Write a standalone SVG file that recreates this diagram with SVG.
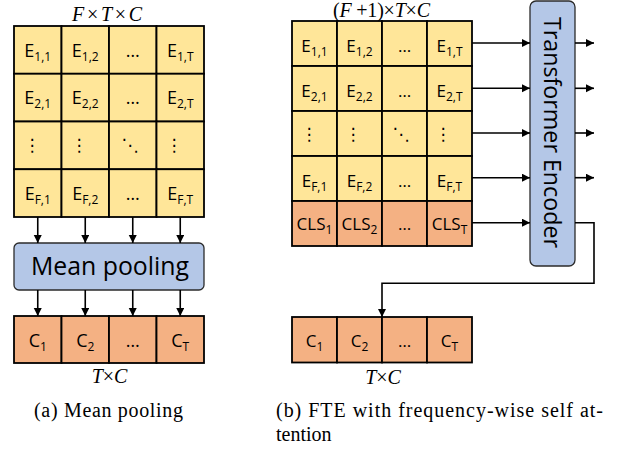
<svg xmlns="http://www.w3.org/2000/svg" width="631" height="449" viewBox="0 0 631 449">
<defs>
<marker id="ah" markerUnits="userSpaceOnUse" markerWidth="9" markerHeight="9" refX="8" refY="4" orient="auto">
<path d="M0,0 L8,4 L0,8 Z" fill="#000"/>
</marker>
<style>
.y{fill:#FFE699;stroke:#000;stroke-width:1.8}
.o{fill:#F4B183;stroke:#000;stroke-width:1.8}
.b{fill:#B4C7E7;stroke:#2b2b2b;stroke-width:1.3}
.l{font-family:"Open Sans","Noto Sans",sans-serif;font-size:18px;fill:#000;text-anchor:middle}
.r{font-family:"Open Sans","Noto Sans",sans-serif;font-size:17px;fill:#000;text-anchor:middle}
.s{font-size:12px}
.d{font-family:"DejaVu Sans",sans-serif;font-size:17px;fill:#000;text-anchor:middle}
.m{font-family:"Liberation Serif","Times New Roman",serif;font-size:20px;fill:#000}
.i{font-style:italic}
.cap{font-family:"Liberation Serif","Times New Roman",serif;font-size:20px;fill:#000}
.c{fill:none;stroke:#000;stroke-width:1.6;marker-end:url(#ah)}
</style>
</defs>

<!-- left matrix -->
<g id="left-matrix">
<rect class="y" x="14" y="26" width="47.5" height="47.75"/>
<rect class="y" x="61.5" y="26" width="47.5" height="47.75"/>
<rect class="y" x="109" y="26" width="47.5" height="47.75"/>
<rect class="y" x="156.5" y="26" width="47.5" height="47.75"/>
<rect class="y" x="14" y="73.75" width="47.5" height="47.75"/>
<rect class="y" x="61.5" y="73.75" width="47.5" height="47.75"/>
<rect class="y" x="109" y="73.75" width="47.5" height="47.75"/>
<rect class="y" x="156.5" y="73.75" width="47.5" height="47.75"/>
<rect class="y" x="14" y="121.5" width="47.5" height="47.75"/>
<rect class="y" x="61.5" y="121.5" width="47.5" height="47.75"/>
<rect class="y" x="109" y="121.5" width="47.5" height="47.75"/>
<rect class="y" x="156.5" y="121.5" width="47.5" height="47.75"/>
<rect class="y" x="14" y="169.25" width="47.5" height="47.75"/>
<rect class="y" x="61.5" y="169.25" width="47.5" height="47.75"/>
<rect class="y" x="109" y="169.25" width="47.5" height="47.75"/>
<rect class="y" x="156.5" y="169.25" width="47.5" height="47.75"/>
<text class="l" x="37.75" y="56.6">E<tspan class="s" dy="4">1,1</tspan></text>
<text class="l" x="85.25" y="56.6">E<tspan class="s" dy="4">1,2</tspan></text>
<text class="l" x="132.75" y="56.6">…</text>
<text class="l" x="180.25" y="56.6">E<tspan class="s" dy="4">1,T</tspan></text>
<text class="l" x="37.75" y="104.3">E<tspan class="s" dy="4">2,1</tspan></text>
<text class="l" x="85.25" y="104.3">E<tspan class="s" dy="4">2,2</tspan></text>
<text class="l" x="132.75" y="104.3">…</text>
<text class="l" x="180.25" y="104.3">E<tspan class="s" dy="4">2,T</tspan></text>
<text class="d" x="32" y="151">⋮</text>
<text class="d" x="79" y="151">⋮</text>
<text class="d" x="130" y="151">⋱</text>
<text class="d" x="174" y="151">⋮</text>
<text class="l" x="37.75" y="199.8">E<tspan class="s" dy="4">F,1</tspan></text>
<text class="l" x="85.25" y="199.8">E<tspan class="s" dy="4">F,2</tspan></text>
<text class="l" x="132.75" y="199.8">…</text>
<text class="l" x="180.25" y="199.8">E<tspan class="s" dy="4">F,T</tspan></text>
</g>
<text class="m" x="72" y="20.5" textLength="70" lengthAdjust="spacing"><tspan class="i">F</tspan>×<tspan class="i">T</tspan>×<tspan class="i">C</tspan></text>

<g id="mean-pooling">
<rect class="b" x="14" y="243" width="190" height="47" rx="5"/>
<text x="110" y="275" font-family="'Open Sans','Noto Sans',sans-serif" font-size="25" text-anchor="middle" textLength="158" lengthAdjust="spacingAndGlyphs">Mean pooling</text>
</g>

<g id="left-output">
<rect class="o" x="14" y="316" width="47.5" height="47"/>
<rect class="o" x="61.5" y="316" width="47.5" height="47"/>
<rect class="o" x="109" y="316" width="47.5" height="47"/>
<rect class="o" x="156.5" y="316" width="47.5" height="47"/>
<text class="l" x="37.75" y="346.5">C<tspan class="s" dy="4">1</tspan></text>
<text class="l" x="85.25" y="346.5">C<tspan class="s" dy="4">2</tspan></text>
<text class="l" x="132.75" y="346.5">…</text>
<text class="l" x="180.25" y="346.5">C<tspan class="s" dy="4">T</tspan></text>
</g>
<text class="m" x="109.5" y="383" text-anchor="middle"><tspan class="i">T</tspan>×<tspan class="i">C</tspan></text>

<!-- right matrix -->
<g id="right-matrix">
<rect class="y" x="292" y="21" width="45" height="45"/>
<rect class="y" x="337" y="21" width="45" height="45"/>
<rect class="y" x="382" y="21" width="45" height="45"/>
<rect class="y" x="427" y="21" width="45" height="45"/>
<rect class="y" x="292" y="66" width="45" height="45"/>
<rect class="y" x="337" y="66" width="45" height="45"/>
<rect class="y" x="382" y="66" width="45" height="45"/>
<rect class="y" x="427" y="66" width="45" height="45"/>
<rect class="y" x="292" y="111" width="45" height="45"/>
<rect class="y" x="337" y="111" width="45" height="45"/>
<rect class="y" x="382" y="111" width="45" height="45"/>
<rect class="y" x="427" y="111" width="45" height="45"/>
<rect class="y" x="292" y="156" width="45" height="45"/>
<rect class="y" x="337" y="156" width="45" height="45"/>
<rect class="y" x="382" y="156" width="45" height="45"/>
<rect class="y" x="427" y="156" width="45" height="45"/>
<rect class="o" x="292" y="201" width="45" height="45"/>
<rect class="o" x="337" y="201" width="45" height="45"/>
<rect class="o" x="382" y="201" width="45" height="45"/>
<rect class="o" x="427" y="201" width="45" height="45"/>
<text class="r" x="314.5" y="51.5">E<tspan class="s" dy="4">1,1</tspan></text>
<text class="r" x="359.5" y="51.5">E<tspan class="s" dy="4">1,2</tspan></text>
<text class="r" x="404.5" y="51.5">…</text>
<text class="r" x="449.5" y="51.5">E<tspan class="s" dy="4">1,T</tspan></text>
<text class="r" x="314.5" y="96.5">E<tspan class="s" dy="4">2,1</tspan></text>
<text class="r" x="359.5" y="96.5">E<tspan class="s" dy="4">2,2</tspan></text>
<text class="r" x="404.5" y="96.5">…</text>
<text class="r" x="449.5" y="96.5">E<tspan class="s" dy="4">2,T</tspan></text>
<text class="d" x="309" y="140">⋮</text>
<text class="d" x="353" y="140">⋮</text>
<text class="d" x="401" y="140">⋱</text>
<text class="d" x="443" y="140">⋮</text>
<text class="r" x="314.5" y="186.5">E<tspan class="s" dy="4">F,1</tspan></text>
<text class="r" x="359.5" y="186.5">E<tspan class="s" dy="4">F,2</tspan></text>
<text class="r" x="404.5" y="186.5">…</text>
<text class="r" x="449.5" y="186.5">E<tspan class="s" dy="4">F,T</tspan></text>
<text class="r" x="314.5" y="229.5">CLS<tspan class="s" dy="4">1</tspan></text>
<text class="r" x="359.5" y="229.5">CLS<tspan class="s" dy="4">2</tspan></text>
<text class="r" x="404.5" y="229.5">…</text>
<text class="r" x="449.5" y="229.5">CLS<tspan class="s" dy="4">T</tspan></text>
</g>
<text class="m" x="333" y="17" font-size="19" textLength="97" lengthAdjust="spacing">(<tspan class="i">F</tspan> +1)×<tspan class="i">T</tspan>×<tspan class="i">C</tspan></text>

<g id="transformer-encoder">
<rect class="b" x="530" y="1" width="45" height="265" rx="6"/>
<text transform="translate(552.5,132.5) rotate(90)" x="0" y="8.3" font-family="'Open Sans','Noto Sans',sans-serif" font-size="23" text-anchor="middle" textLength="231" lengthAdjust="spacingAndGlyphs">Transformer Encoder</text>
</g>

<g id="right-output">
<rect class="o" x="292" y="317" width="45" height="45.5"/>
<rect class="o" x="337" y="317" width="45" height="45.5"/>
<rect class="o" x="382" y="317" width="45" height="45.5"/>
<rect class="o" x="427" y="317" width="45" height="45.5"/>
<text class="r" x="314.5" y="347.3">C<tspan class="s" dy="4">1</tspan></text>
<text class="r" x="359.5" y="347.3">C<tspan class="s" dy="4">2</tspan></text>
<text class="r" x="404.5" y="347.3">…</text>
<text class="r" x="449.5" y="347.3">C<tspan class="s" dy="4">T</tspan></text>
</g>
<text class="m" x="383" y="384" text-anchor="middle"><tspan class="i">T</tspan>×<tspan class="i">C</tspan></text>

<g id="connectors">
<line class="c" x1="37.75" y1="217" x2="37.75" y2="243"/>
<line class="c" x1="85.25" y1="217" x2="85.25" y2="243"/>
<line class="c" x1="132.75" y1="217" x2="132.75" y2="243"/>
<line class="c" x1="180.25" y1="217" x2="180.25" y2="243"/>
<line class="c" x1="37.75" y1="290" x2="37.75" y2="316"/>
<line class="c" x1="85.25" y1="290" x2="85.25" y2="316"/>
<line class="c" x1="132.75" y1="290" x2="132.75" y2="316"/>
<line class="c" x1="180.25" y1="290" x2="180.25" y2="316"/>
<line class="c" x1="472" y1="43" x2="530" y2="43"/>
<line class="c" x1="472" y1="88.3" x2="530" y2="88.3"/>
<line class="c" x1="472" y1="133" x2="530" y2="133"/>
<line class="c" x1="472" y1="177.7" x2="530" y2="177.7"/>
<line class="c" x1="472" y1="222.7" x2="530" y2="222.7"/>
<line class="c" x1="575" y1="43" x2="594" y2="43"/>
<line class="c" x1="575" y1="88.3" x2="594" y2="88.3"/>
<line class="c" x1="575" y1="133" x2="594" y2="133"/>
<line class="c" x1="575" y1="177.7" x2="594" y2="177.7"/>
<polyline class="c" points="575,222.7 594,222.7 594,283.3 382,283.3 382,317"/>
</g>

<g id="captions">
<text class="cap" x="34" y="417" textLength="149" lengthAdjust="spacing">(a)  Mean pooling</text>
<text class="cap" x="276" y="417" textLength="327" lengthAdjust="spacing">(b)  FTE with frequency-wise self at-</text>
<text class="cap" x="276" y="441">tention</text>
</g>
</svg>
